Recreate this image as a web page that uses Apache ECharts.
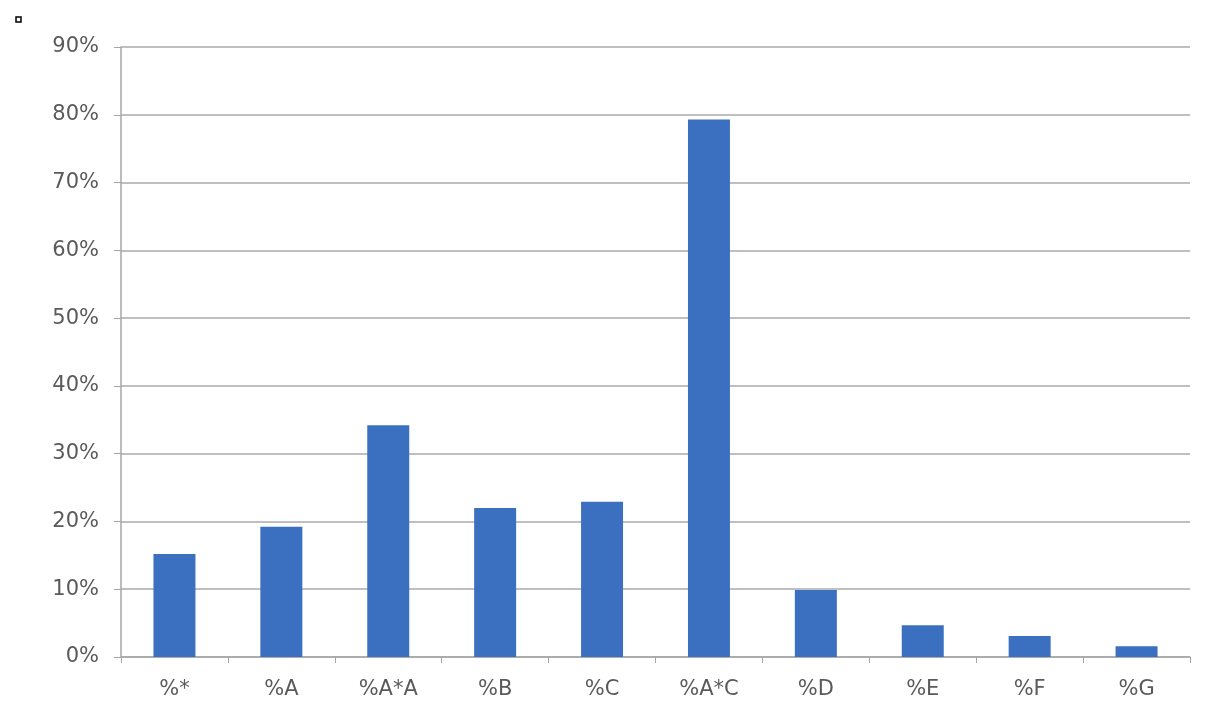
<!DOCTYPE html>
<html>
<head>
<meta charset="utf-8">
<script src="https://cdn.jsdelivr.net/npm/echarts@6/dist/echarts.min.js"></script>
<style>
html,body{margin:0;padding:0;background:#fff;}
#chart{width:1205px;height:722px;}
</style>
</head>
<body>
<div id="chart"></div>
<script>
const categories = ['%*', '%A', '%A*A', '%B', '%C', '%A*C', '%D', '%E', '%F', '%G'];
const values = [0.152, 0.192, 0.342, 0.220, 0.229, 0.793, 0.099, 0.047, 0.031, 0.016];
const yTicks = { min: 0, max: 0.9, interval: 0.1 };

const chart = echarts.init(document.getElementById('chart'), null, { renderer: 'canvas' });
chart.setOption({
  backgroundColor: '#ffffff',
  animation: false,
  graphic: [{
    type: 'rect',
    shape: { x: 16, y: 17, width: 5, height: 5 },
    style: { fill: '#fff', stroke: '#000', lineWidth: 1.5 }
  }],
  grid: { left: 121, right: 15, top: 47, bottom: 65, containLabel: false },
  xAxis: {
    type: 'category',
    data: categories,
    axisLine: { show: true, lineStyle: { color: '#a6a6a6', width: 1.5 } },
    axisTick: { show: true, length: 6, lineStyle: { color: '#a6a6a6' }, alignWithLabel: false },
    axisLabel: { color: '#5a5a5a', fontSize: 21, fontFamily: 'DejaVu Sans', margin: 22 },
    splitLine: { show: false }
  },
  yAxis: {
    type: 'value',
    min: yTicks.min, max: yTicks.max, interval: yTicks.interval,
    axisLine: { show: true, lineStyle: { color: '#a6a6a6', width: 1.5 } },
    axisTick: { show: true, length: 7, lineStyle: { color: '#a6a6a6' } },
    axisLabel: {
      color: '#5a5a5a', fontSize: 21, fontFamily: 'DejaVu Sans', margin: 22,
      formatter: v => Math.round(v * 100) + '%'
    },
    splitLine: { show: true, lineStyle: { color: '#bfbfbf', width: 2 } }
  },
  series: [{
    type: 'bar',
    data: values,
    barWidth: 42,
    itemStyle: { color: '#3b70c0' }
  }]
});
</script>
</body>
</html>
